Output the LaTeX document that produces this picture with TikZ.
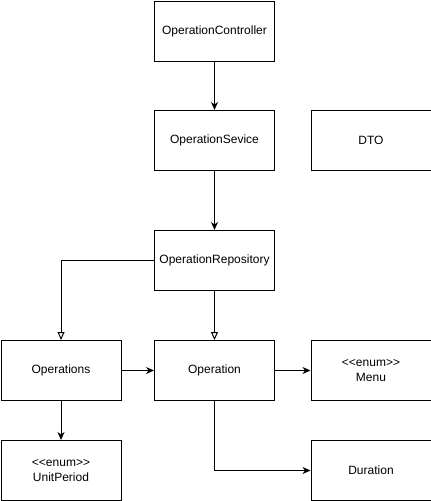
\documentclass[tikz,border=0pt]{standalone}
\usepackage{fontspec}
\setmainfont{Liberation Sans}
\usetikzlibrary{arrows.meta}
\begin{document}
\begin{tikzpicture}[x=1pt,y=-1pt,
  box/.style={draw=black,line width=1pt,minimum width=120pt,minimum height=60pt,inner sep=0pt,font=\fontsize{12}{15}\selectfont,align=center,anchor=north west},
  conn/.style={line width=1pt,-{Stealth[length=8pt,width=7pt,inset=2.5pt]}},
  inh/.style={line width=1pt,-{Triangle[open,length=8pt,width=7pt]}}]
\useasboundingbox (0,0) rectangle (431,501);
\node[box] (ctrl) at (154,0.5) {OperationController};
\node[box] (svc) at (154,110) {OperationSevice};
\node[box] (dto) at (310.5,110) {DTO};
\node[box] (repo) at (154,230) {OperationRepository};
\node[box] (ops) at (0.5,340) {Operations};
\node[box] (op) at (154,340) {Operation};
\node[box] (menu) at (310.5,340) {{<}{<}enum{>}{>}\\Menu};
\node[box] (unit) at (0.5,440) {{<}{<}enum{>}{>}\\UnitPeriod};
\node[box] (dur) at (310.5,440) {Duration};
\draw[conn] (ctrl) -- (svc);
\draw[conn] (svc) -- (repo);
\draw[inh] (repo.west) -| (ops.north);
\draw[inh] (repo) -- (op);
\draw[conn] (ops) -- (op);
\draw[conn] (op) -- (menu);
\draw[conn] (ops) -- (unit);
\draw[conn] (op.south) |- (dur.west);
\end{tikzpicture}
\end{document}
